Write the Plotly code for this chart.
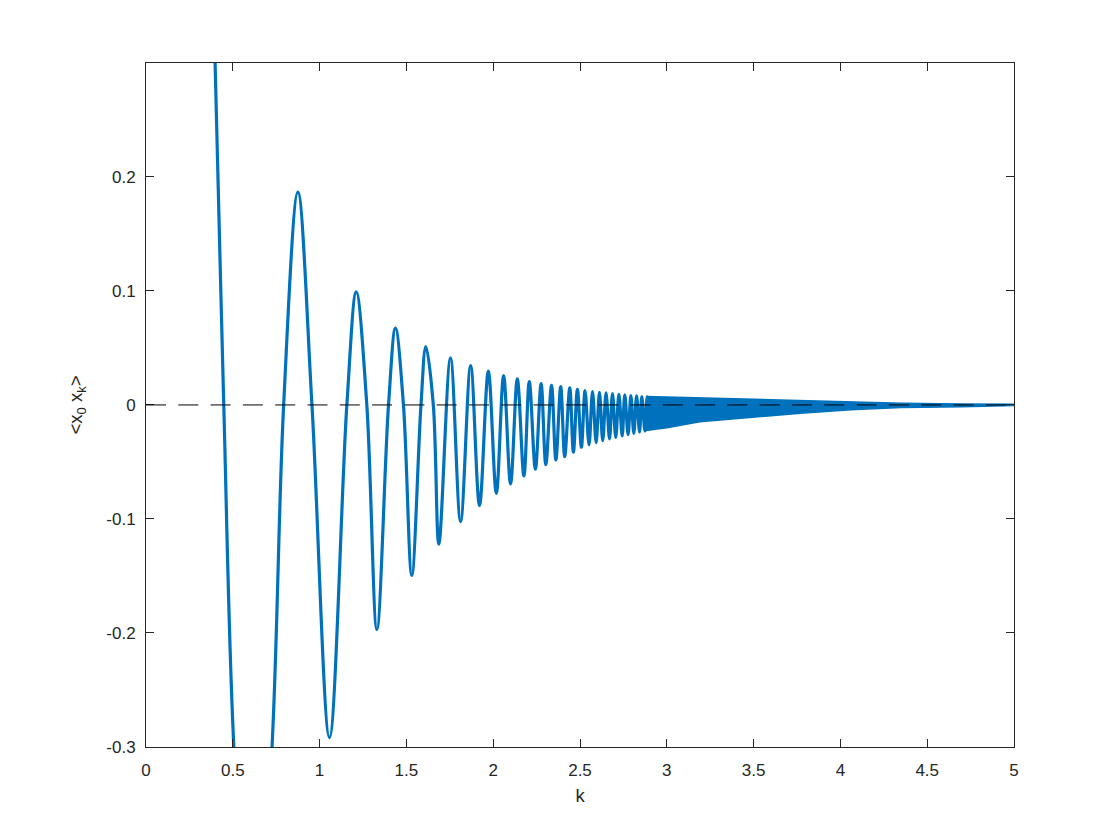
import plotly.graph_objects as go

# ---- data ----
# start of curve (the part leaving the top/bottom of the frame), zero crossings, extrema
lead_k = [0.27, 0.398]
lead_v = [1.00, 0.30]
offchart_k = [0.506, 0.616, 0.726]
offchart_v = [-0.30, -0.55, -0.30]
zero_k = [0.448, 0.793, 0.956, 1.157, 1.272, 1.397, 1.483, 1.584, 1.655]

peak_k = [0.875, 1.211, 1.437, 1.612, 1.754, 1.870, 1.972, 2.060, 2.139, 2.208,
          2.276, 2.336, 2.389, 2.441, 2.485, 2.529, 2.572, 2.612, 2.650, 2.687,
          2.724, 2.758, 2.793, 2.826, 2.856, 2.887]
peak_v = [0.1866, 0.0992, 0.0675, 0.0512, 0.0412, 0.0345, 0.0296, 0.0257, 0.0228, 0.0205,
          0.0187, 0.0172, 0.0160, 0.0149, 0.0137, 0.0126, 0.0117, 0.0110, 0.0105, 0.0099,
          0.0094, 0.0088, 0.0082, 0.0079, 0.0073, 0.0070]

trough_k = [1.057, 1.330, 1.531, 1.687, 1.812, 1.921, 2.018, 2.100, 2.177, 2.243,
            2.303, 2.361, 2.412, 2.462, 2.508, 2.552, 2.593, 2.631, 2.670, 2.706,
            2.743, 2.777, 2.810, 2.843, 2.874, 2.904]
trough_v = [-0.2917, -0.197, -0.1496, -0.1222, -0.1023, -0.0883, -0.0775, -0.0693, -0.0623, -0.0564,
            -0.0523, -0.0482, -0.0453, -0.0415, -0.0371, -0.0351, -0.0330, -0.0313, -0.0298, -0.0284,
            -0.0272, -0.0260, -0.0249, -0.0237, -0.0228, -0.0220]

# unresolved high-frequency part: envelope of the oscillation band (outer edges)
band_k = [2.88, 3.00, 3.19, 3.48, 3.77, 4.06, 4.35, 4.70, 5.00]
band_upper = [0.0075, 0.0070, 0.0060, 0.0046, 0.0035, 0.0024, 0.0015, 0.0009, 0.0005]
band_lower = [-0.0225, -0.0200, -0.0148, -0.0108, -0.0073, -0.0042, -0.0022, -0.0016, -0.0005]

x_ticks = [0, 0.5, 1, 1.5, 2, 2.5, 3, 3.5, 4, 4.5, 5]
x_ticktext = ["0", "0.5", "1", "1.5", "2", "2.5", "3", "3.5", "4", "4.5", "5"]
y_ticks = [-0.3, -0.2, -0.1, 0, 0.1, 0.2]
y_ticktext = ["-0.3", "-0.2", "-0.1", "0", "0.1", "0.2"]

# ---- build the curve table ----
pts = list(zip(lead_k, lead_v)) + list(zip(offchart_k, offchart_v)) + \
      [(k, 0.0) for k in zero_k] + list(zip(peak_k, peak_v)) + list(zip(trough_k, trough_v))
pts.sort(key=lambda p: p[0])
curve_k = [p[0] for p in pts]
curve_v = [p[1] for p in pts]

blue = "#0072BD"
ink = "#262626"
font = "Liberation Sans, Arial, Helvetica, sans-serif"

fig = go.Figure()
fig.add_trace(go.Scatter(
    x=band_k + band_k[::-1], y=band_upper + band_lower[::-1],
    fill="toself", fillcolor=blue, mode="lines",
    line=dict(color=blue, width=1.5), hoverinfo="skip", showlegend=False))
fig.add_trace(go.Scatter(
    x=curve_k, y=curve_v, mode="lines",
    line=dict(color=blue, width=3.2, shape="spline", smoothing=1.0),
    showlegend=False))

fig.add_shape(type="line", xref="paper", x0=0, x1=1, yref="y", y0=0, y1=0,
              line=dict(color="black", width=1, dash="20px,12.3px"), layer="above")

fig.update_layout(
    width=1120, height=840,
    paper_bgcolor="white", plot_bgcolor="white",
    margin=dict(l=138, r=114, t=55, b=101, autoexpand=False),
    font=dict(family=font, size=17, color=ink),
    xaxis=dict(range=[0, 5], tickvals=x_ticks, ticktext=x_ticktext,
               showgrid=False, zeroline=False, showline=True, linecolor=ink, linewidth=1,
               mirror="allticks", ticks="inside", ticklen=8, tickwidth=1, tickcolor=ink,
               ticklabelstandoff=8,
               title=dict(text="k", font=dict(size=18.5, color=ink), standoff=9)),
    yaxis=dict(range=[-0.3, 0.2999], tickvals=y_ticks, ticktext=y_ticktext,
               showgrid=False, zeroline=False, showline=True, linecolor=ink, linewidth=1,
               mirror="allticks", ticks="inside", ticklen=8, tickwidth=1, tickcolor=ink,
               ticklabelstandoff=6,
               title=dict(text="&lt;x<sub>0</sub> x<sub>k</sub>&gt;", font=dict(size=18.5, color=ink),
                          standoff=18)),
)

fig.write_html("out.html")
